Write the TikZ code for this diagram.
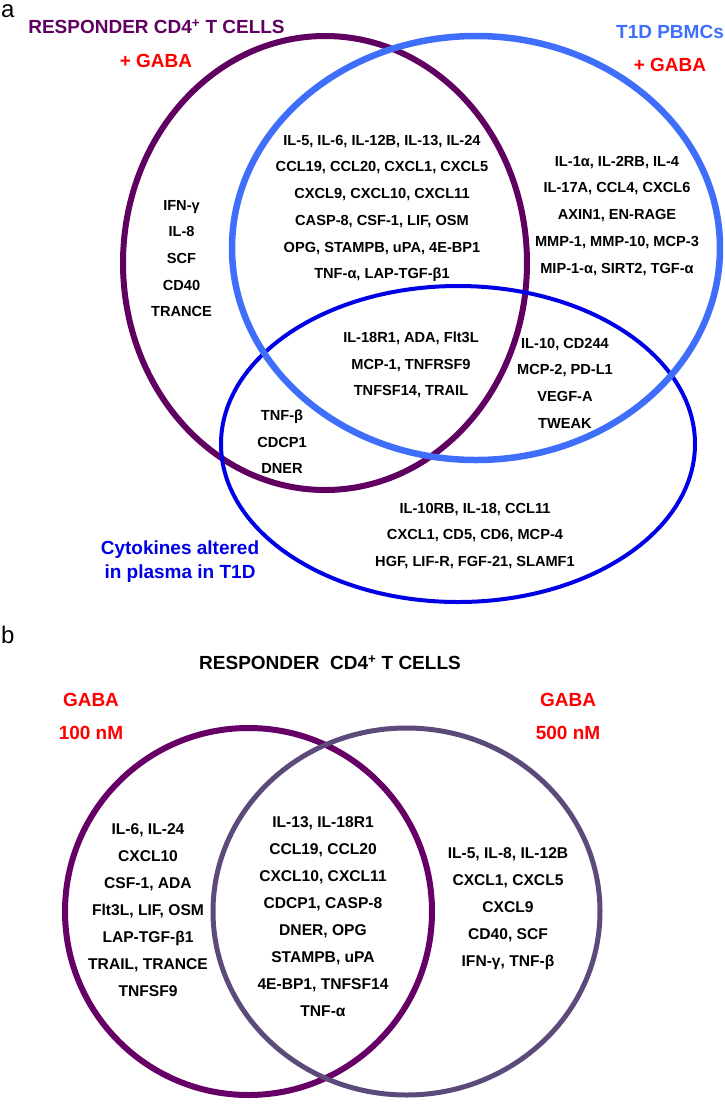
\documentclass[tikz,border=0pt]{standalone}
\usepackage{fontspec}
\setmainfont{Liberation Sans}
\usepackage{tikz}
\usetikzlibrary{shapes.geometric}
\usepackage{xcolor}

\definecolor{resppurple}{RGB}{96,0,96}
\definecolor{pbmcblue}{RGB}{62,110,250}
\definecolor{plasmablue}{RGB}{0,0,230}
\definecolor{gabared}{RGB}{255,0,0}
\definecolor{lowpurple}{RGB}{102,0,102}
\definecolor{highpurple}{RGB}{92,74,122}

\begin{document}
\begin{tikzpicture}[x=1pt, y=-1pt,
    setring/.style={ellipse, inner sep=0pt, outer sep=0pt},
    listbox/.style={align=center, inner sep=0pt, anchor=north,
                    font=\bfseries\fontsize{14.6}{26.7}\selectfont},
    doselist/.style={align=center, inner sep=0pt, anchor=north,
                     font=\bfseries\fontsize{15.6}{27}\selectfont},
    headline/.style={inner sep=0pt, text height=13.7pt, text depth=0pt,
                     font=\bfseries\fontsize{19}{24}\selectfont},
    panel/.style={inner sep=0pt, anchor=base west, font=\fontsize{24}{24}\selectfont}
]
    \useasboundingbox (0,0) rectangle (725,1104);

    % panel a: three sets
    \node[setring, draw=resppurple, line width=6pt,
          minimum width=404pt, minimum height=454pt] (respset) at (325,263) {};
    \node[setring, draw=plasmablue, line width=4pt,
          minimum width=474pt, minimum height=316pt] (plasmaset) at (458,444) {};
    \node[setring, draw=pbmcblue, line width=6.5pt,
          minimum width=488pt, minimum height=424pt] (pbmcset) at (476,248) {};

    \node[panel] (panela) at (1,17) {a};
    \node[headline, text=resppurple] (resptitle) at (156.5,27) {RESPONDER CD4\textsuperscript{+} T CELLS};
    \node[headline, text=gabared] (respgaba) at (156,61) {+ GABA};
    \node[headline, text=pbmcblue] (pbmctitle) at (670,32) {T1D PBMCs};
    \node[headline, text=gabared] (pbmcgaba) at (670,65) {+ GABA};
    \node[align=center, inner sep=0pt, anchor=north, text=plasmablue,
          font=\bfseries\fontsize{19}{24}\selectfont] (plasmatitle) at (180,541)
          {Cytokines altered\\in plasma in T1D};

    \node[listbox] (leftonly) at (181.5,199.8)
        {IFN-γ\\IL-8\\SCF\\CD40\\TRANCE};
    \node[listbox] (core) at (382,134.8)
        {IL-5, IL-6, IL-12B, IL-13, IL-24\\CCL19, CCL20, CXCL1, CXCL5\\CXCL9, CXCL10, CXCL11\\CASP-8, CSF-1, LIF, OSM\\OPG, STAMPB, uPA, 4E-BP1\\TNF-α, LAP-TGF-β1};
    \node[listbox] (pbmconly) at (617,155.8)
        {IL-1α, IL-2RB, IL-4\\IL-17A, CCL4, CXCL6\\AXIN1, EN-RAGE\\MMP-1, MMP-10, MCP-3\\MIP-1-α, SIRT2, TGF-α};
    \node[listbox] (triple) at (411,331.8)
        {IL-18R1, ADA, Flt3L\\MCP-1, TNFRSF9\\TNFSF14, TRAIL};
    \node[listbox] (pbmcplasma) at (565,337.8)
        {IL-10, CD244\\MCP-2, PD-L1\\VEGF-A\\TWEAK};
    \node[listbox] (respplasma) at (282,409.8)
        {TNF-β\\CDCP1\\DNER};
    \node[listbox] (plasmaonly) at (475,502.8)
        {IL-10RB, IL-18, CCL11\\CXCL1, CD5, CD6, MCP-4\\HGF, LIF-R, FGF-21, SLAMF1};

    % panel b: two doses
    \node[setring, draw=lowpurple, line width=6pt,
          minimum width=367pt, minimum height=367pt] (lowset) at (248.5,911.5) {};
    \node[setring, draw=highpurple, line width=5pt,
          minimum width=387pt, minimum height=367pt] (highset) at (406.5,911.5) {};

    \node[panel] (panelb) at (1,643) {b};
    \node[headline] (dosetitle) at (330,663) {RESPONDER\ \ CD4\textsuperscript{+} T CELLS};
    \node[headline, text=gabared] (lowgaba) at (91,700) {GABA};
    \node[headline, text=gabared] (lowdose) at (91,733) {100 nM};
    \node[headline, text=gabared] (highgaba) at (568,700) {GABA};
    \node[headline, text=gabared] (highdose) at (568,733) {500 nM};

    \node[doselist] (lowonly) at (148,823.4)
        {IL-6, IL-24\\CXCL10\\CSF-1, ADA\\Flt3L, LIF, OSM\\LAP-TGF-β1\\TRAIL, TRANCE\\TNFSF9};
    \node[doselist] (bothdose) at (323,816.4)
        {IL-13, IL-18R1\\CCL19, CCL20\\CXCL10, CXCL11\\CDCP1, CASP-8\\DNER, OPG\\STAMPB, uPA\\4E-BP1, TNFSF14\\TNF-α};
    \node[doselist] (highonly) at (508,847.4)
        {IL-5, IL-8, IL-12B\\CXCL1, CXCL5\\CXCL9\\CD40, SCF\\IFN-γ, TNF-β};
\end{tikzpicture}
\end{document}
